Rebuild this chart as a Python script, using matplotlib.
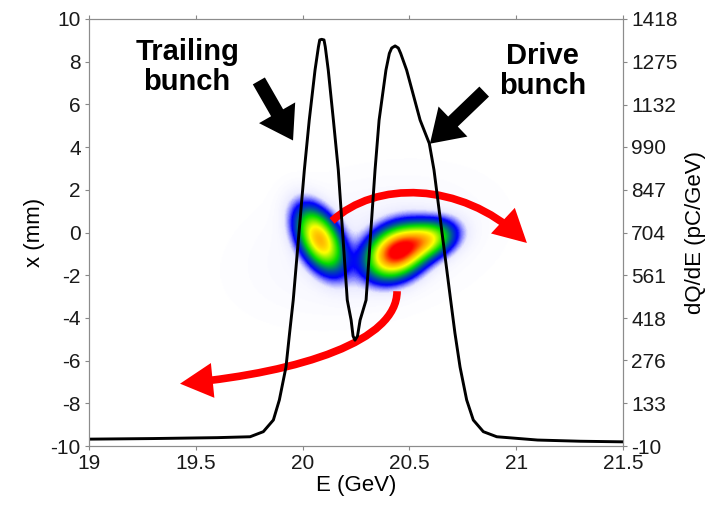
"""
Energy spectrum of drive and trailing bunches
=============================================

Screen image of the two bunches with the dQ/dE lineout on top.
"""

import numpy as np
import matplotlib
matplotlib.use('Agg')
import matplotlib.pyplot as plt
from matplotlib.colors import LinearSegmentedColormap
from matplotlib.patches import FancyArrowPatch
from matplotlib.path import Path

plt.rcParams['font.family'] = ['Liberation Sans', 'DejaVu Sans']
plt.rcParams['axes.unicode_minus'] = False

# Spectrum lineout (right axis, pC/GeV)
energy = [19.0, 19.3, 19.6, 19.754, 19.816, 19.863, 19.891, 19.922, 19.939, 19.956,
          20.008, 20.031, 20.058, 20.074, 20.080, 20.089, 20.100, 20.106, 20.120,
          20.144, 20.167, 20.209, 20.227, 20.236, 20.245, 20.257, 20.269, 20.297,
          20.339, 20.358, 20.390, 20.406, 20.417, 20.433, 20.448, 20.459, 20.487,
          20.550, 20.593, 20.615, 20.693, 20.713, 20.737, 20.768, 20.799, 20.846,
          20.909, 21.1, 21.3, 21.5]
charge = [13, 15, 18, 21, 38, 77, 144, 254, 368, 478,
          913, 1080, 1247, 1325, 1348, 1350, 1348, 1325, 1247,
          1080, 913, 478, 411, 358, 344, 358, 411, 478,
          913, 1080, 1247, 1303, 1321, 1328, 1321, 1303, 1247,
          1080, 1002, 913, 478, 368, 254, 144, 77, 38,
          21, 10, 6, 4]

# Beam spots on the screen (E centre, x centre, sigma E, sigma x, correlation, peak)
spot_E = [20.08, 20.44, 20.59, 20.30]
spot_x = [-0.35, -0.95, -0.35, -0.60]
spot_sE = [0.069, 0.085, 0.08, 0.34]
spot_sx = [0.92, 0.74, 0.55, 2.0]
spot_rho = [-0.46, 0.25, 0.25, 0.3]
spot_amp = [0.72, 1.0, 0.5, 0.03]

xticks = [19, 19.5, 20, 20.5, 21, 21.5]
xticklabels = ['19', '19.5', '20', '20.5', '21', '21.5']
yticks_mm = [-10, -8, -6, -4, -2, 0, 2, 4, 6, 8, 10]
yticks_q = [-10, 133, 276, 418, 561, 704, 847, 990, 1132, 1275, 1418]

###############################################################################
fig = plt.figure(figsize=(7.1, 5.08), dpi=100)
ax = fig.add_axes([0.1254, 0.122, 0.7521, 0.8406])

# Screen image
E_grid = np.linspace(19, 21.5, 500)
x_grid = np.linspace(-10, 10, 400)
EE, XX = np.meshgrid(E_grid, x_grid)
dens = np.zeros_like(EE)
for e0, x0, se, sx, r, a in zip(spot_E, spot_x, spot_sE, spot_sx, spot_rho, spot_amp):
    u = (EE - e0) / se
    v = (XX - x0) / sx
    dens += a * np.exp(-(u * u - 2 * r * u * v + v * v) / (2 * (1 - r * r)))

cmap = LinearSegmentedColormap.from_list('screen', [
    (0.0, '#ffffff'), (0.045, '#ebebff'), (0.13, '#0000ff'), (0.36, '#00dd00'),
    (0.6, '#ffff00'), (0.8, '#ff9900'), (1.0, '#ff0000')])
ax.imshow(dens, extent=[19, 21.5, -10, 10], origin='lower', aspect='auto',
          cmap=cmap, vmin=0, vmax=1, interpolation='bilinear')

ax.set_xlim(19, 21.5)
ax.set_ylim(-10, 10)
ax.set_xticks(xticks)
ax.set_xticklabels(xticklabels)
ax.set_yticks(yticks_mm)
ax.set_xlabel('E (GeV)', fontsize=16, labelpad=1)
ax.set_ylabel('x (mm)', fontsize=16, labelpad=4)
ax.tick_params(axis='both', direction='out', length=3, width=0.8, color='#888888',
               labelsize=15, labelcolor='#1a1a1a', pad=3)
ax.tick_params(axis='x', top=True)

# Spectrum on the right axis
ax2 = ax.twinx()
ax2.plot(energy, charge, color='k', lw=2.1)
ax2.set_ylim(-10, 1418)
ax2.set_yticks(yticks_q)
ax2.set_yticklabels([str(q) for q in yticks_q])
ax2.set_ylabel('dQ/dE (pC/GeV)', fontsize=16, labelpad=5)
ax2.tick_params(axis='y', direction='out', length=3, width=0.8, color='#888888',
                labelsize=15, labelcolor='#1a1a1a', pad=3)

for a in (ax, ax2):
    for s in a.spines.values():
        s.set_color('#8c8c8c')
        s.set_linewidth(0.8)

# Labels and black arrows
ax2.text(19.459, 7.75, 'Trailing\nbunch', transform=ax.transData, ha='center',
         va='center', fontsize=21, fontweight='bold', linespacing=1.1)
ax2.text(21.125, 7.55, 'Drive\nbunch', transform=ax.transData, ha='center',
         va='center', fontsize=21, fontweight='bold', linespacing=1.1)

black_style = 'simple,head_length=23,head_width=30,tail_width=10'
ax2.add_patch(FancyArrowPatch((19.795, 7.1), (19.955, 4.31), transform=ax.transData,
                              arrowstyle=black_style, color='k', lw=0,
                              shrinkA=0, shrinkB=0))
ax2.add_patch(FancyArrowPatch((20.85, 6.6), (20.596, 4.16), transform=ax.transData,
                              arrowstyle=black_style, color='k', lw=0,
                              shrinkA=0, shrinkB=0))

# Red curved arrows
red_style = '-|>,head_length=15,head_width=8'
up_path = Path([(20.138, 0.54), (20.339, 2.42), (20.737, 2.42), (21.05, -0.49)],
               [Path.MOVETO, Path.CURVE4, Path.CURVE4, Path.CURVE4])
low_path = Path([(20.442, -2.75), (20.442, -5.10), (19.988, -6.52), (19.426, -7.08)],
                [Path.MOVETO, Path.CURVE4, Path.CURVE4, Path.CURVE4])
for p in (up_path, low_path):
    ax2.add_patch(FancyArrowPatch(path=p, transform=ax.transData, arrowstyle=red_style,
                                  color='#ff0000', lw=5.5, mutation_scale=1,
                                  capstyle='butt', joinstyle='miter'))

fig.savefig('out.png', dpi=100)
